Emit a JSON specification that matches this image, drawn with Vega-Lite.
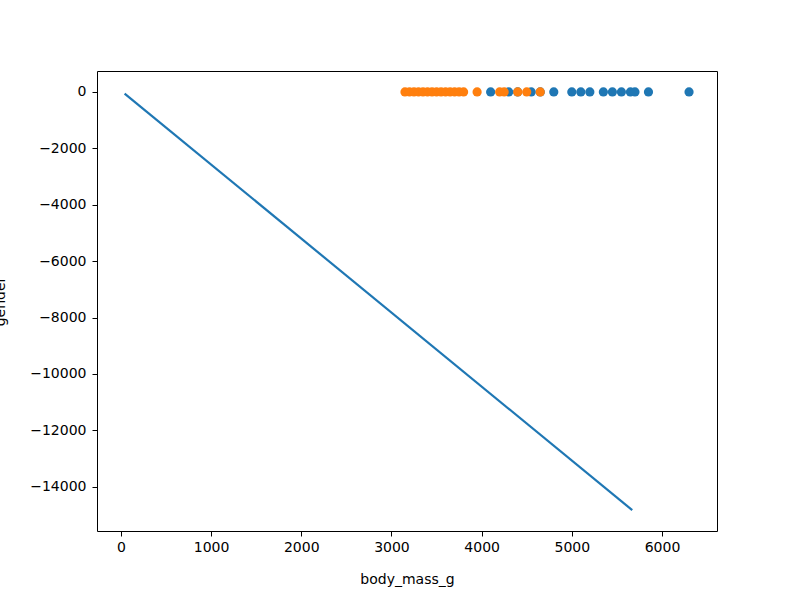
{
  "$schema": "https://vega.github.io/schema/vega-lite/v6.json",
  "width": 620,
  "height": 460,
  "autosize": {"type": "none"},
  "padding": {"left": 97, "top": 71, "right": 74, "bottom": 63},
  "background": "white",
  "config": {
    "view": {"stroke": "black", "strokeWidth": 1},
    "axis": {
      "domain": false,
      "grid": false,
      "ticks": true,
      "tickColor": "black",
      "tickSize": 5,
      "tickWidth": 1,
      "labelFont": "DejaVu Sans",
      "labelFontSize": 14,
      "labelColor": "black",
      "labelPadding": 4,
      "format": "d",
      "titleFont": "DejaVu Sans",
      "titleFontSize": 14,
      "titleFontWeight": "normal",
      "titleColor": "black"
    }
  },
  "layer": [
    {
      "data": {"values": [
        {"body_mass_g": 41, "pred": -60},
        {"body_mass_g": 5670, "pred": -14830}
      ]},
      "mark": {"type": "line", "color": "#1f77b4", "strokeWidth": 2.2, "clip": true},
      "encoding": {
        "x": {"field": "body_mass_g", "type": "quantitative",
              "scale": {"domain": [-265, 6610], "nice": false, "zero": false},
              "axis": {"values": [0, 1000, 2000, 3000, 4000, 5000, 6000], "title": "body_mass_g", "format": "d",
                       "titleX": 310, "titleY": 52, "titleBaseline": "alphabetic", "titleAlign": "center"}},
        "y": {"field": "pred", "type": "quantitative",
              "scale": {"domain": [-15570, 741], "nice": false, "zero": false},
              "axis": {"values": [0, -2000, -4000, -6000, -8000, -10000, -12000, -14000], "title": "gender", "format": "d",
                       "labelPadding": 6,
                       "titleX": -93, "titleY": 230, "titleAngle": -90, "titleBaseline": "alphabetic", "titleAlign": "center"}}
      }
    },
    {
      "data": {"values": [
        {"body_mass_g": 4100, "gender": 0, "sex": "male"},
        {"body_mass_g": 4300, "gender": 0, "sex": "male"},
        {"body_mass_g": 4400, "gender": 0, "sex": "male"},
        {"body_mass_g": 4550, "gender": 0, "sex": "male"},
        {"body_mass_g": 4650, "gender": 0, "sex": "male"},
        {"body_mass_g": 4800, "gender": 0, "sex": "male"},
        {"body_mass_g": 5000, "gender": 0, "sex": "male"},
        {"body_mass_g": 5100, "gender": 0, "sex": "male"},
        {"body_mass_g": 5200, "gender": 0, "sex": "male"},
        {"body_mass_g": 5350, "gender": 0, "sex": "male"},
        {"body_mass_g": 5450, "gender": 0, "sex": "male"},
        {"body_mass_g": 5550, "gender": 0, "sex": "male"},
        {"body_mass_g": 5650, "gender": 0, "sex": "male"},
        {"body_mass_g": 5700, "gender": 0, "sex": "male"},
        {"body_mass_g": 5850, "gender": 0, "sex": "male"},
        {"body_mass_g": 6300, "gender": 0, "sex": "male"},
        {"body_mass_g": 3150, "gender": 0, "sex": "female"},
        {"body_mass_g": 3200, "gender": 0, "sex": "female"},
        {"body_mass_g": 3250, "gender": 0, "sex": "female"},
        {"body_mass_g": 3300, "gender": 0, "sex": "female"},
        {"body_mass_g": 3350, "gender": 0, "sex": "female"},
        {"body_mass_g": 3400, "gender": 0, "sex": "female"},
        {"body_mass_g": 3450, "gender": 0, "sex": "female"},
        {"body_mass_g": 3500, "gender": 0, "sex": "female"},
        {"body_mass_g": 3550, "gender": 0, "sex": "female"},
        {"body_mass_g": 3600, "gender": 0, "sex": "female"},
        {"body_mass_g": 3650, "gender": 0, "sex": "female"},
        {"body_mass_g": 3700, "gender": 0, "sex": "female"},
        {"body_mass_g": 3750, "gender": 0, "sex": "female"},
        {"body_mass_g": 3800, "gender": 0, "sex": "female"},
        {"body_mass_g": 3950, "gender": 0, "sex": "female"},
        {"body_mass_g": 4200, "gender": 0, "sex": "female"},
        {"body_mass_g": 4250, "gender": 0, "sex": "female"},
        {"body_mass_g": 4400, "gender": 0, "sex": "female"},
        {"body_mass_g": 4500, "gender": 0, "sex": "female"},
        {"body_mass_g": 4650, "gender": 0, "sex": "female"}
      ]},
      "mark": {"type": "circle", "size": 85, "opacity": 1},
      "encoding": {
        "x": {"field": "body_mass_g", "type": "quantitative"},
        "y": {"field": "gender", "type": "quantitative"},
        "color": {"field": "sex", "type": "nominal",
                  "scale": {"domain": ["male", "female"], "range": ["#1f77b4", "#ff7f0e"]},
                  "legend": null},
        "order": {"field": "sex", "sort": "descending"}
      }
    }
  ]
}
